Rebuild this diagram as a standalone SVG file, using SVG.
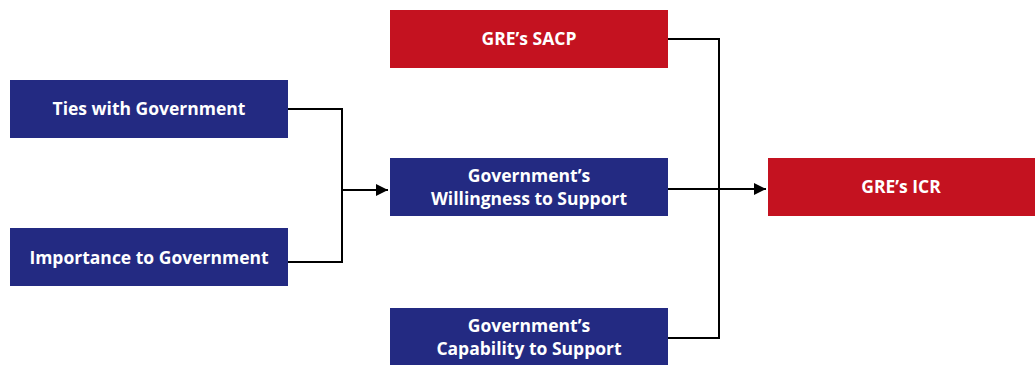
<svg xmlns="http://www.w3.org/2000/svg" width="1035" height="365" viewBox="0 0 1035 365">
<style>
.blue{fill:#232a82}
.red{fill:#c41220}
.t{fill:#fff;font-family:"Open Sans","Liberation Sans",sans-serif;font-weight:bold;font-size:17.5px;text-anchor:middle}
.c{fill:none;stroke:#000;stroke-width:2}
</style>
<defs>
<marker id="ah" markerWidth="12" markerHeight="12" refX="12" refY="6" orient="auto" markerUnits="userSpaceOnUse">
<path d="M0,0 L12,6 L0,12 z" fill="#000"/>
</marker>
</defs>
<rect width="1035" height="365" fill="#fff"/>
<g id="connectors">
<path class="c" d="M288,109 H342 V262 H288"/>
<path class="c" d="M342,190 H388" marker-end="url(#ah)"/>
<path class="c" d="M668,39 H719 V338 H668"/>
<path class="c" d="M668,189 H766" marker-end="url(#ah)"/>
</g>
<g id="ties"><rect class="blue" x="10" y="80" width="278" height="58"/><text class="t" x="149" y="115">Ties with Government</text></g>
<g id="importance"><rect class="blue" x="10" y="228" width="278" height="58"/><text class="t" x="149" y="264">Importance to Government</text></g>
<g id="sacp"><rect class="red" x="390" y="10" width="278" height="58"/><text class="t" x="529" y="45">GRE’s SACP</text></g>
<g id="willingness"><rect class="blue" x="390" y="158" width="278" height="58"/><text class="t" x="529" y="182">Government’s</text><text class="t" x="529" y="205">Willingness to Support</text></g>
<g id="capability"><rect class="blue" x="390" y="308" width="278" height="60"/><text class="t" x="529" y="332">Government’s</text><text class="t" x="529" y="355">Capability to Support</text></g>
<g id="icr"><rect class="red" x="768" y="158" width="267" height="58"/><text class="t" x="901" y="193">GRE’s ICR</text></g>
</svg>
